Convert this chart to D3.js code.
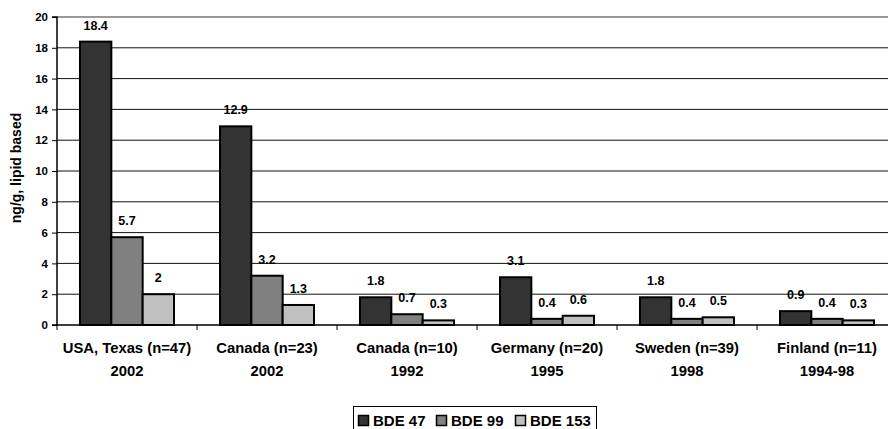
<!DOCTYPE html>
<html>
<head>
<meta charset="utf-8">
<script src="https://cdn.jsdelivr.net/npm/d3@7/dist/d3.min.js"></script>
<style>
  html, body { margin: 0; padding: 0; background: #fff; overflow: hidden; }
  svg { display: block; font-family: Arial, "Liberation Sans", sans-serif; font-weight: bold; }
</style>
</head>
<body>
<svg id="chart" width="888" height="429"></svg>
<script>
// Study populations (two-line labels) and congener concentrations
const categories = [
  ["USA, Texas (n=47)", "2002"],
  ["Canada (n=23)", "2002"],
  ["Canada (n=10)", "1992"],
  ["Germany (n=20)", "1995"],
  ["Sweden (n=39)", "1998"],
  ["Finland (n=11)", "1994-98"]
];
const seriesNames = ["BDE 47", "BDE 99", "BDE 153"];
const bde47 = [18.4, 12.9, 1.8, 3.1, 1.8, 0.9];
const bde99 = [5.7, 3.2, 0.7, 0.4, 0.4, 0.4];
const bde153 = [2, 1.3, 0.3, 0.6, 0.5, 0.3];
const yTicks = [0, 2, 4, 6, 8, 10, 12, 14, 16, 18, 20];
const yLabel = "ng/g, lipid based";

const colors = ["#333333", "#808080", "#c0c0c0"];
const series = [bde47, bde99, bde153];

const svg = d3.select("#chart");
const plot = { left: 57, right: 897, top: 17, bottom: 325 };

// one slot per study, the bar group sits centred in it
const slot = (plot.right - plot.left) / categories.length;
const groupW = 94;
const x1 = d3.scaleBand().domain(d3.range(series.length)).range([0, groupW]);
const groupX = i => plot.left + i * slot + (slot - groupW) / 2;

const y = d3.scaleLinear().domain([0, 20]).range([plot.bottom, plot.top]);

// gridlines
svg.append("g")
  .selectAll("line")
  .data(yTicks.filter(t => t > 0 && t < 20))
  .join("line")
  .attr("x1", plot.left).attr("x2", plot.right)
  .attr("y1", d => y(d)).attr("y2", d => y(d))
  .attr("stroke", "#111").attr("stroke-width", 1);

// top frame line
svg.append("line")
  .attr("x1", plot.left).attr("x2", plot.right)
  .attr("y1", y(20)).attr("y2", y(20))
  .attr("stroke", "#999").attr("stroke-width", 2);

// bars and their value labels
series.forEach((vals, s) => {
  svg.append("g")
    .selectAll("rect")
    .data(vals)
    .join("rect")
    .attr("x", (d, i) => groupX(i) + x1(s))
    .attr("y", d => y(d))
    .attr("width", x1.bandwidth())
    .attr("height", d => y(0) - y(d))
    .attr("fill", colors[s])
    .attr("stroke", "#000")
    .attr("stroke-width", 2);

  svg.append("g")
    .selectAll("text")
    .data(vals)
    .join("text")
    .attr("x", (d, i) => groupX(i) + x1(s) + x1.bandwidth() / 2)
    .attr("y", d => y(d) - 12)
    .attr("text-anchor", "middle")
    .attr("font-size", 12.5)
    .attr("fill", "#000")
    .text(d => d);
});

// y axis
const yAxis = d3.axisLeft(y).tickValues(yTicks).tickSize(5).tickPadding(4).tickFormat(d3.format("d"));
const gy = svg.append("g").attr("transform", `translate(${plot.left},0)`).call(yAxis);
gy.select(".domain").attr("stroke", "#000").attr("stroke-width", 1.5).attr("d", `M-5,${y(20)}H0V${y(0)}H-5`);
gy.selectAll(".tick line").attr("stroke", "#000");
gy.selectAll(".tick text").attr("font-size", 11.5).attr("font-weight", "bold").attr("font-family", "Arial, 'Liberation Sans', sans-serif").attr("fill", "#000");

// x axis baseline and category ticks
const xTickPos = d3.range(categories.length + 1).map(i => plot.left + i * slot);
svg.append("line")
  .attr("x1", plot.left).attr("x2", plot.right)
  .attr("y1", y(0)).attr("y2", y(0))
  .attr("stroke", "#000").attr("stroke-width", 1.5);
svg.append("g").selectAll("line").data(xTickPos).join("line")
  .attr("x1", d => d).attr("x2", d => d)
  .attr("y1", y(0)).attr("y2", y(0) + 5)
  .attr("stroke", "#000").attr("stroke-width", 1);

// category labels
const catG = svg.append("g").selectAll("text").data(categories).join("text")
  .attr("text-anchor", "middle")
  .attr("font-size", 14.8)
  .attr("fill", "#000");
catG.append("tspan")
  .attr("x", (d, i) => plot.left + i * slot + slot / 2)
  .attr("y", 353)
  .text(d => d[0]);
catG.append("tspan")
  .attr("x", (d, i) => plot.left + i * slot + slot / 2)
  .attr("y", 376)
  .text(d => d[1]);

// y-axis title
svg.append("text")
  .attr("transform", "translate(21,168) rotate(-90)")
  .attr("text-anchor", "middle")
  .attr("font-size", 14)
  .attr("fill", "#000")
  .text(yLabel);

// legend
const legend = svg.append("g").attr("transform", "translate(353,406)");
legend.append("rect")
  .attr("x", 0.5).attr("y", 0.5).attr("width", 243).attr("height", 30)
  .attr("fill", "#fff").attr("stroke", "#000").attr("stroke-width", 1);
const itemX = [5, 83, 162];
seriesNames.forEach((name, s) => {
  legend.append("rect")
    .attr("x", itemX[s] + 0.5).attr("y", 9.5)
    .attr("width", 10).attr("height", 10)
    .attr("fill", colors[s]).attr("stroke", "#000").attr("stroke-width", 1.5);
  legend.append("text")
    .attr("x", itemX[s] + 15).attr("y", 19.5)
    .attr("font-size", 15)
    .attr("fill", "#000")
    .text(name);
});
</script>
</body>
</html>
